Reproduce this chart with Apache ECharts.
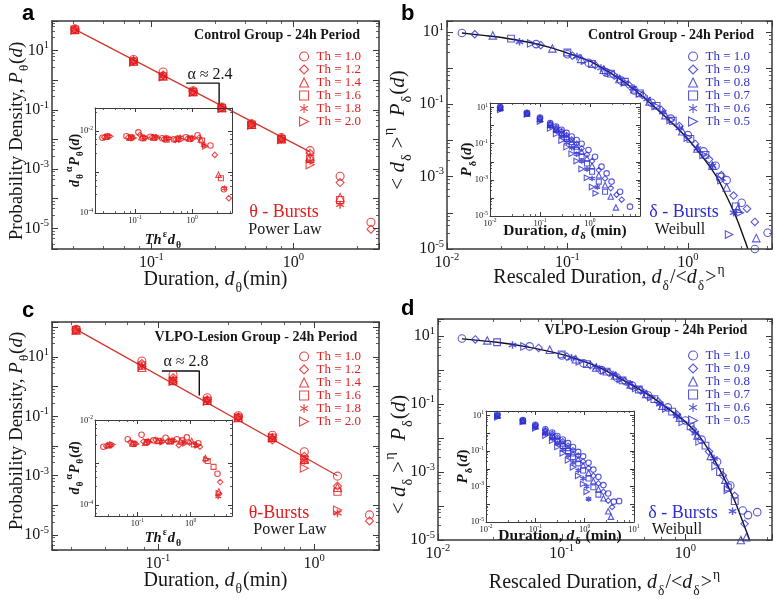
<!DOCTYPE html>
<html><head><meta charset="utf-8">
<script src="https://cdn.jsdelivr.net/npm/echarts@6/dist/echarts.min.js"></script>
<style>html,body{margin:0;padding:0;background:#fff}#c{width:775px;height:599px}</style>
</head><body><div id="c"></div>
<script>
// ================= DATA =================
const thetaLegend = ['Th = 1.0','Th = 1.2','Th = 1.4','Th = 1.6','Th = 1.8','Th = 2.0'];
const deltaLegend = ['Th = 1.0','Th = 0.9','Th = 0.8','Th = 0.7','Th = 0.6','Th = 0.5'];

// tick label exponents (10^k) per grid: a, b, c, d, inset a, inset b, inset c, inset d
const xTickExp = [[-1,0],[-2,-1,0],[-1,0],[-2,-1,0],[-1,0],[-2,-1,0],[-1,0],[-2,-1,0,1]];
const yTickExp = [[1,-1,-3,-5],[1,-1,-3,-5],[1,-1,-3,-5],[1,-1,-3,-5],[-2,-4],[1,-1,-3,-5],[-2,-4],[1,-1,-3,-5]];

// Panel a : theta bursts, control
const durA = [0.029,0.075,0.121,0.197,0.314,0.508,0.824,1.31,2.13,3.51];
const pA_th10 = [54,5.0,1.9,0.44,0.125,0.034,0.0115,4.2e-3,5.7e-4,1.6e-5];
const pA_th12 = [52,4.6,1.5,0.42,0.12,0.033,0.011,3.4e-3,3.5e-4,9.3e-6];
const pA_th14 = [51,4.4,1.4,0.41,0.118,0.032,0.0105,2.6e-3,1.1e-4];
const pA_th16 = [50,4.3,1.35,0.40,0.115,0.031,0.0102,2.2e-3,9e-5];
const pA_th18 = [50,4.2,1.35,0.40,0.115,0.031,0.010,1.9e-3,6.3e-5];
const pA_th20 = [49,4.1,1.3,0.39,0.112,0.030,0.0098,1.4e-3];
const fitA = [[0.029,52],[1.31,3.8e-3]];
const slopeA = [[0.176,0.8],[0.30,0.8],[0.30,0.15]];
const insetA = [
  [[0.027,6.8e-3],[0.071,7.4e-3],[0.115,9.2e-3],[0.186,7.2e-3],[0.3,6.6e-3],[0.48,6.2e-3],[0.78,7.0e-3],[1.25,7.8e-3],[2.1,4.4e-3],[3.6,3.8e-4]],
  [[0.029,7.0e-3],[0.076,6.9e-3],[0.123,8.0e-3],[0.2,7.0e-3],[0.32,6.3e-3],[0.51,6.0e-3],[0.83,6.5e-3],[1.33,6.8e-3],[2.5,2.6e-3],[4.4,2.3e-4]],
  [[0.031,7.2e-3],[0.081,6.8e-3],[0.13,7.0e-3],[0.21,6.9e-3],[0.34,6.6e-3],[0.55,6.4e-3],[0.88,6.6e-3],[1.42,6.2e-3],[2.9,8.5e-4]],
  [[0.033,7.3e-3],[0.086,7.0e-3],[0.14,6.6e-3],[0.22,6.9e-3],[0.36,6.1e-3],[0.58,6.5e-3],[0.93,6.4e-3],[1.5,5.8e-3],[3.2,7.0e-4]],
  [[0.035,7.4e-3],[0.09,7.1e-3],[0.146,7.0e-3],[0.235,7.2e-3],[0.38,6.6e-3],[0.62,7.0e-3],[1.0,6.9e-3],[1.6,4.5e-3],[3.7,4.0e-4]],
  [[0.037,7.4e-3],[0.095,6.7e-3],[0.154,6.7e-3],[0.25,6.8e-3],[0.4,6.6e-3],[0.65,6.1e-3],[1.05,6.4e-3],[1.7,4.2e-3]]
];

// Panel c : theta bursts, VLPO lesion
const durC = [0.030,0.079,0.125,0.207,0.327,0.54,0.865,1.41,2.26];
const pC_th10 = [85,7.3,2.5,0.42,0.105,0.023,6.4e-3,9.7e-4,4.8e-5];
const pC_th12 = [82,6.0,2.0,0.36,0.095,0.016,4.5e-3,4.5e-4,3e-5];
const pC_th14 = [80,4.4,1.7,0.34,0.09,0.019,3.6e-3,4e-4];
const pC_th16 = [80,5.1,1.55,0.33,0.09,0.019,3.4e-3,2.9e-4];
const pC_th18 = [80,5.0,1.55,0.33,0.09,0.019,3.2e-3,5.5e-5];
const pC_th20 = [78,4.8,1.5,0.32,0.088,0.019,1.8e-3,7e-5];
const fitC = [[0.030,85],[1.41,1e-3]];
const slopeC = [[0.106,3.36],[0.184,3.36],[0.184,0.5]];
const insetC = [
  [[0.023,2.4e-3],[0.066,3.6e-3],[0.12,4.6e-3],[0.2,3.4e-3],[0.34,3.9e-3],[0.55,3.6e-3],[0.85,4.0e-3],[1.4,2.9e-3],[3.2,5.5e-4]],
  [[0.026,2.5e-3],[0.074,3.1e-3],[0.13,3.2e-3],[0.22,3.5e-3],[0.37,3.2e-3],[0.6,2.6e-3],[0.95,3.0e-3],[1.5,2.4e-3],[3.6,3.5e-4]],
  [[0.028,2.6e-3],[0.08,2.9e-3],[0.14,3.0e-3],[0.24,3.3e-3],[0.4,3.3e-3],[0.65,3.2e-3],[1.05,3.3e-3],[1.9,1.3e-3],[3.4,2.1e-4]],
  [[0.03,2.6e-3],[0.085,2.8e-3],[0.15,3.1e-3],[0.26,3.3e-3],[0.43,3.2e-3],[0.7,3.4e-3],[1.15,2.7e-3],[2.1,1.1e-3],[2.7,8e-4]],
  [[0.032,2.6e-3],[0.09,2.9e-3],[0.16,3.3e-3],[0.28,3.2e-3],[0.46,3.4e-3],[0.75,3.1e-3],[1.25,2.6e-3],[3.3,1.6e-4]],
  [[0.034,2.7e-3],[0.095,2.8e-3],[0.17,3.1e-3],[0.3,3.1e-3],[0.5,3.3e-3],[0.8,2.9e-3],[1.35,2.6e-3],[2.0,1.2e-3],[3.4,1.9e-4]]
];

// Panel b : delta bursts, control (rescaled)
const pB = [
  [[0.0133,9.3],[0.055,4.6],[0.1,2.4],[0.15,1.4],[0.21,0.75],[0.28,0.45],[0.36,0.24],[0.5,0.11],[0.72,0.04],[1.0,0.014],[1.35,5e-3],[1.7,2e-3],[2.1,8e-4],[2.8,1.9e-4],[3.6,1e-5],[4.6,2.8e-5]],
  [[0.017,8.6],[0.06,4.3],[0.11,2.2],[0.17,1.2],[0.24,0.65],[0.32,0.35],[0.42,0.18],[0.6,0.07],[0.85,0.025],[1.15,8e-3],[1.5,3e-3],[1.9,1.1e-3],[2.4,3e-4],[3.1,1.3e-4],[3.6,5.6e-5]],
  [[0.024,8],[0.075,3.5],[0.13,1.8],[0.2,0.9],[0.27,0.5],[0.36,0.26],[0.48,0.12],[0.65,0.05],[0.9,0.018],[1.2,6e-3],[1.6,2e-3],[2.1,5e-4],[2.6,1.3e-4],[3.7,2e-5]],
  [[0.034,6.5],[0.1,2.7],[0.16,1.3],[0.23,0.7],[0.3,0.42],[0.4,0.2],[0.55,0.09],[0.75,0.035],[1.05,0.011],[1.4,4e-3],[1.85,1e-3],[2.5,1.5e-4]],
  [[0.04,5.3],[0.12,2.1],[0.19,1.0],[0.26,0.55],[0.35,0.28],[0.46,0.14],[0.62,0.06],[0.85,0.022],[1.2,6e-3],[1.6,2e-3],[2.4,1e-4]],
  [[0.05,4.8],[0.14,1.6],[0.22,0.8],[0.3,0.4],[0.4,0.2],[0.54,0.09],[0.72,0.037],[1.0,0.012],[1.35,4e-3],[1.9,8e-4],[2.2,2.5e-5],[2.7,1e-4]]
];
const weibullB = [[0.0133,9.3],[0.02,8.0],[0.03,6.8],[0.05,5.0],[0.07,3.8],[0.1,2.6],[0.15,1.6],[0.2,0.95],[0.3,0.4],[0.4,0.19],[0.5,0.1],[0.7,0.036],[1.0,0.011],[1.3,3.8e-3],[1.7,1.1e-3],[2.0,4e-4],[2.5,8e-5],[3.0,1.6e-5],[3.15,1e-5]];
const insetB = [
  [[0.016,11],[0.055,5.2],[0.1,2.8],[0.16,1.4],[0.21,0.9],[0.27,0.6],[0.34,0.4],[0.43,0.25],[0.54,0.16],[0.68,0.1],[0.93,0.045],[1.26,0.019],[1.7,5.4e-3],[2.15,2.3e-3],[2.7,8e-4],[4.0,2.2e-4],[6.3,3.3e-5]],
  [[0.016,10],[0.055,5],[0.1,2.6],[0.16,1.3],[0.21,0.8],[0.27,0.5],[0.34,0.3],[0.43,0.17],[0.54,0.1],[0.68,0.055],[0.87,0.025],[1.1,0.011],[1.5,3.5e-3],[2.0,1.2e-3],[2.6,3.5e-4],[3.4,1.5e-4],[4.3,8e-5]],
  [[0.016,10],[0.055,4.8],[0.1,2.4],[0.16,1.2],[0.21,0.7],[0.27,0.42],[0.34,0.24],[0.43,0.13],[0.54,0.07],[0.68,0.036],[0.87,0.016],[1.1,6e-3],[1.5,1.8e-3],[2.0,5e-4],[2.6,1.2e-4],[3.3,3e-5]],
  [[0.016,9],[0.055,4.6],[0.1,2.2],[0.16,1.05],[0.21,0.6],[0.27,0.34],[0.34,0.18],[0.43,0.09],[0.54,0.045],[0.68,0.02],[0.87,8e-3],[1.1,2.8e-3],[1.5,8e-4],[2.0,2.2e-4]],
  [[0.016,8.5],[0.055,4.4],[0.1,2.0],[0.16,0.9],[0.21,0.5],[0.27,0.26],[0.34,0.12],[0.43,0.06],[0.54,0.026],[0.68,0.011],[0.87,4e-3],[1.1,1.2e-3],[1.4,4e-4]],
  [[0.016,7.5],[0.055,4.2],[0.1,1.7],[0.16,0.7],[0.21,0.35],[0.27,0.15],[0.34,0.065],[0.43,0.028],[0.54,0.011],[0.68,4e-3],[0.87,1.3e-3],[1.1,4e-4],[1.3,1.8e-4]]
];

// Panel d : delta bursts, VLPO lesion (rescaled)
const pD = [
  [[0.0156,8.5],[0.055,5],[0.1,2.7],[0.15,1.6],[0.21,1.0],[0.28,0.6],[0.37,0.35],[0.5,0.18],[0.72,0.08],[1.0,0.033],[1.35,0.009],[1.8,2e-3],[2.3,4e-4],[2.9,7.4e-5],[3.2,5.4e-5],[3.8,6.6e-5]],
  [[0.02,8],[0.065,4.5],[0.11,2.5],[0.17,1.4],[0.24,0.85],[0.32,0.48],[0.43,0.26],[0.6,0.12],[0.85,0.05],[1.15,0.018],[1.55,4e-3],[2.0,8e-4],[2.5,2e-4],[3.0,3e-5]],
  [[0.025,7.5],[0.08,4],[0.13,2.1],[0.19,1.2],[0.27,0.7],[0.36,0.38],[0.48,0.2],[0.65,0.09],[0.9,0.04],[1.25,0.012],[1.6,3e-3],[2.1,6e-4],[2.8,1e-5],[3.1,1.2e-5]],
  [[0.03,6.6],[0.1,2.9],[0.16,1.5],[0.23,0.9],[0.31,0.5],[0.42,0.27],[0.56,0.14],[0.78,0.06],[1.1,0.022],[1.45,6e-3],[1.9,1e-3],[2.2,3.5e-4],[2.5,1.4e-4]],
  [[0.04,5.5],[0.12,2.3],[0.19,1.2],[0.26,0.75],[0.35,0.4],[0.46,0.22],[0.62,0.1],[0.85,0.045],[1.2,0.014],[1.7,2.5e-3],[2.4,7e-5]],
  [[0.05,5],[0.14,1.8],[0.22,1.0],[0.3,0.55],[0.4,0.3],[0.53,0.16],[0.7,0.075],[0.95,0.03],[1.3,0.008],[1.75,1.5e-3],[2.2,3e-4]]
];
const weibullD = [[0.0156,8.3],[0.03,6.6],[0.05,5.0],[0.1,2.9],[0.15,1.8],[0.2,1.2],[0.3,0.55],[0.5,0.19],[0.7,0.08],[1.0,0.03],[1.3,0.011],[1.6,3.5e-3],[2.0,8e-4],[2.5,1.4e-4],[3.0,2.5e-5],[3.3,1e-5]];
const insetD = [
  [[0.017,12],[0.056,5.5],[0.1,3.0],[0.16,1.7],[0.22,1.1],[0.28,0.7],[0.36,0.45],[0.46,0.28],[0.58,0.17],[0.74,0.09],[0.93,0.05],[1.2,0.022],[1.5,9e-3],[1.9,3.5e-3],[2.4,1.2e-3],[3.0,4e-4],[3.9,1.4e-4],[5.0,1.5e-4]],
  [[0.017,11],[0.056,5.2],[0.1,2.8],[0.16,1.5],[0.22,0.95],[0.28,0.58],[0.36,0.35],[0.46,0.2],[0.58,0.11],[0.74,0.055],[0.93,0.026],[1.2,0.011],[1.5,4e-3],[1.9,1.5e-3],[2.4,5e-4],[3.0,1.6e-4],[3.6,7e-5]],
  [[0.017,10],[0.056,5],[0.1,2.6],[0.16,1.3],[0.22,0.8],[0.28,0.48],[0.36,0.27],[0.46,0.15],[0.58,0.075],[0.74,0.036],[0.93,0.016],[1.2,6e-3],[1.5,2e-3],[1.9,7e-4],[2.4,2.2e-4],[3.0,4e-5],[3.4,2e-5]],
  [[0.017,9.5],[0.056,4.8],[0.1,2.4],[0.16,1.1],[0.22,0.65],[0.28,0.36],[0.36,0.19],[0.46,0.1],[0.58,0.045],[0.74,0.02],[0.93,8e-3],[1.2,2.8e-3],[1.5,9e-4],[1.9,3.5e-4]],
  [[0.017,9],[0.056,4.6],[0.1,2.2],[0.16,0.95],[0.22,0.5],[0.28,0.26],[0.36,0.12],[0.46,0.055],[0.58,0.022],[0.74,8e-3],[0.93,2.8e-3],[1.1,1e-3],[1.2,2e-4]],
  [[0.017,8],[0.056,4.4],[0.1,1.9],[0.16,0.75],[0.22,0.38],[0.28,0.17],[0.36,0.075],[0.46,0.03],[0.58,0.012],[0.74,4e-3],[0.93,1.4e-3],[1.1,5e-4]]
];

// ================= STYLE / LAYOUT =================
const SERIF = '"Liberation Serif","DejaVu Serif",serif';
const SANS = '"Liberation Sans","DejaVu Sans",sans-serif';
const RED = '#e31c1c', REDLINE = '#d23a2e', BLUE = '#2f2fcf', INK = '#161616', AXC = '#3a3a3a';
const SYMBOLS = ['circle','diamond','triangle','rect',
  'path://M5,0L5,10M0.67,2.5L9.33,7.5M0.67,7.5L9.33,2.5',
  'path://M0,0L10,5L0,10Z'];

const GRIDS = [
  {left:52, top:21, width:327, height:228},
  {left:447, top:21, width:325, height:228},
  {left:52, top:322, width:327, height:228},
  {left:438, top:319, width:335, height:232},
  {left:95, top:108, width:137, height:105},
  {left:490, top:103, width:150, height:113},
  {left:95, top:420, width:137, height:96},
  {left:486, top:411, width:148, height:111}
];
const RANGES = [
  {x:[0.02,4], y:[2e-6,100]},
  {x:[0.01,5], y:[1e-5,20]},
  {x:[0.021,2.6], y:[3.16e-6,150]},
  {x:[0.01,5], y:[1e-5,32]},
  {x:[0.02,5], y:[1e-4,0.036]},
  {x:[0.01,10], y:[1e-5,18]},
  {x:[0.016,6], y:[5.5e-5,0.0103]},
  {x:[0.01,10], y:[1e-5,18]}
];
function nameRich(fs, bold) {
  const w = bold ? 'bold' : 'normal';
  return {
    i:{fontFamily:SERIF, fontSize:fs, fontStyle:'italic', fontWeight:w, lineHeight:fs*1.5, color:INK},
    sub:{fontFamily:SERIF, fontSize:fs*0.68, fontWeight:w, lineHeight:fs*0.68, verticalAlign:'bottom', color:INK, padding:[0,1,0,1]},
    sup:{fontFamily:SERIF, fontSize:fs*0.68, fontWeight:w, lineHeight:fs*0.68, verticalAlign:'top', color:INK, padding:[0,1,0,1]}
  };
}
// axis names: [text, gap, fontSize, bold, padding]
const DNAME = '< {i|d}{sub|δ} >{sup|η}  {i|P}{sub|δ}({i|d})';
const NAMES = [
  {x:['Duration, {i|d}{sub|θ}(min)',16,20,false,0], y:['Probability Density, {i|P}{sub|θ}({i|d})',21,19,false,[0,12,0,0]]},
  {x:['Rescaled Duration, {i|d}{sub|δ}/<{i|d}{sub|δ}>{sup|η}',14,20,false,0], y:[DNAME,33,21,false,[0,0,0,10]]},
  {x:['Duration, {i|d}{sub|θ}(min)',16,20,false,0], y:['Probability Density, {i|P}{sub|θ}({i|d})',21,19,false,[0,0,0,10]]},
  {x:['Rescaled Duration, {i|d}{sub|δ}/<{i|d}{sub|δ}>{sup|η}',28,20,false,0], y:[DNAME,23,21,false,[0,50,0,0]]},
  {x:['{i|Th}{sup|ε}{i|d}{sub|θ}',16,14.5,true,0], y:['{i|d}{sub|θ}{sup|α}{i|P}{sub|θ}({i|d})',9.5,14,true,0]},
  {x:['Duration, {i|d}{sub|δ} (min)',3,15.5,true,0], y:['{i|P}{sub|δ}({i|d})',12,15,true,0]},
  {x:['{i|Th}{sup|ε}{i|d}{sub|θ}',11,14.5,true,0], y:['{i|d}{sub|θ}{sup|α}{i|P}{sub|θ}({i|d})',9.5,14,true,0]},
  {x:['Duration, {i|d}{sub|δ} (min)',2,15.5,true,0], y:['{i|P}{sub|δ}({i|d})',12,15,true,0]}
];

function makeAxis(dim, g, mirror) {
  const main = g < 4;
  const r = RANGES[g][dim];
  const exps = (dim === 'x' ? xTickExp : yTickExp)[g];
  const fs = main ? 16 : 8.5;
  const ax = {
    type:'log', logBase:10, gridIndex:g, min:r[0], max:r[1],
    position: dim === 'x' ? (mirror ? 'top' : 'bottom') : (mirror ? 'right' : 'left'),
    axisLine:{show:true, onZero:false, lineStyle:{color:AXC, width: main ? 1.5 : 1}},
    axisTick:{show:true, inside:true, interval:0, length: main ? 6 : 4, lineStyle:{color:AXC, width:1}},
    minorTick:{show:true, splitNumber:5, length: main ? 3 : 2, lineStyle:{color:AXC, width:0.8}},
    splitLine:{show:false}, minorSplitLine:{show:false},
    axisLabel:{show:!mirror, interval:0, showMinLabel:true, showMaxLabel:true, hideOverlap:false,
      margin: main ? 3 : 2,
      formatter: v => { const e = Math.log10(v), k = Math.round(e);
        return (Math.abs(e - k) < 1e-6 && exps.includes(k)) ? '{b|10}{s|' + k + '}' : ''; },
      rich:{b:{fontFamily:SERIF, fontSize:fs, lineHeight:fs*1.3, color:INK},
            s:{fontFamily:SERIF, fontSize:fs*0.66, lineHeight:fs*0.66, verticalAlign:'top', color:INK}}
    },
    silent:true, z:4
  };
  if (!mirror) {
    const n = NAMES[g][dim];
    Object.assign(ax, {name:n[0], nameLocation:'middle', nameGap:n[1], nameMoveOverlap:false,
      nameTextStyle:{fontFamily:SERIF, fontSize:n[2], fontWeight: n[3] ? 'bold' : 'normal', color:INK,
        lineHeight:n[2]*1.5, padding:n[4], rich:nameRich(n[2], n[3])}});
  }
  return ax;
}
const xAxis = [], yAxis = [];
GRIDS.forEach((_, g) => { xAxis.push(makeAxis('x', g, false), makeAxis('x', g, true));
                         yAxis.push(makeAxis('y', g, false), makeAxis('y', g, true)); });

const series = [];
function scat(name, g, data, k, color, size) {
  const star = k === 4;
  series.push({type:'scatter', name, xAxisIndex:2*g, yAxisIndex:2*g, data,
    symbol:SYMBOLS[k], symbolSize: k === 3 ? size*0.9 : size,
    itemStyle:{color: star ? color : 'rgba(255,255,255,0)', borderColor:color, borderWidth: star ? 1.5 : 1.1},
    silent:true, z:3});
}
function line(g, data, color, smooth) {
  series.push({type:'line', xAxisIndex:2*g, yAxisIndex:2*g, data, symbol:'none', smooth: smooth || false,
    lineStyle:{color, width:1.4}, silent:true, z:2});
}
const pA = [pA_th10,pA_th12,pA_th14,pA_th16,pA_th18,pA_th20];
const pC = [pC_th10,pC_th12,pC_th14,pC_th16,pC_th18,pC_th20];
line(0, fitA, REDLINE); line(0, slopeA, '#111');
line(2, fitC, REDLINE); line(2, slopeC, '#111');
line(1, weibullB, '#111', 0.3); line(3, weibullD, '#111', 0.3);
pA.forEach((ys, k) => scat('a:' + thetaLegend[k], 0, ys.map((y, i) => [durA[i], y]), k, RED, 8));
pC.forEach((ys, k) => scat('c:' + thetaLegend[k], 2, ys.map((y, i) => [durC[i], y]), k, RED, 8));
pB.forEach((d, k) => scat('b:' + deltaLegend[k], 1, d, k, BLUE, 7.5));
pD.forEach((d, k) => scat('d:' + deltaLegend[k], 3, d, k, BLUE, 7.5));
insetA.forEach((d, k) => scat('ia' + k, 4, d, k, RED, 5.5));
insetB.forEach((d, k) => scat('ib' + k, 5, d, k, BLUE, 5.5));
insetC.forEach((d, k) => scat('ic' + k, 6, d, k, RED, 5.5));
insetD.forEach((d, k) => scat('id' + k, 7, d, k, BLUE, 5.5));

function legend(prefix, labels, left, top, color, lh) {
  return {data: labels.map(l => prefix + l), orient:'vertical', left, top, itemWidth:9, itemHeight:9, itemGap:0,
    selectedMode:false, formatter: n => n.slice(2), itemStyle:{borderWidth:1.1},
    textStyle:{color, fontFamily:SERIF, fontSize:13, lineHeight:lh, padding:[0,0,0,3]}};
}
function T(text, x, y, size, color, weight, family, align) {
  return {type:'text', x, y, silent:true, z:100,
    style:{text, fill:color, font:(weight || 'normal') + ' ' + size + 'px ' + (family || SERIF),
      align: align || 'center', verticalAlign:'middle', textAlign: align || 'center', textVerticalAlign:'middle'}};
}
const graphic = [
  T('a', 22, 14, 22, '#000', 'bold', SANS, 'left'),
  T('b', 401, 14, 22, '#000', 'bold', SANS, 'left'),
  T('c', 22, 311, 22, '#000', 'bold', SANS, 'left'),
  T('d', 401, 309, 22, '#000', 'bold', SANS, 'left'),
  T('Control Group - 24h Period', 277, 35, 14, INK, 'bold'),
  T('Control Group - 24h Period', 671, 35, 14, INK, 'bold'),
  T('VLPO-Lesion Group - 24h Period', 256, 337, 14, INK, 'bold'),
  T('VLPO-Lesion Group - 24h Period', 646, 330, 14, INK, 'bold'),
  T('α ≈ 2.4', 210, 75, 16, INK),
  T('α ≈ 2.8', 186, 362, 16, INK),
  T('θ - Bursts', 284, 212, 18, RED),
  T('Power Law', 285, 230, 16, INK),
  T('δ - Bursts', 684, 212, 18, BLUE),
  T('Weibull', 680, 230, 16, INK),
  T('θ-Bursts', 279, 513, 18, RED),
  T('Power Law', 290, 530, 16, INK),
  T('δ - Bursts', 683, 513, 18, BLUE),
  T('Weibull', 677, 530, 16, INK)
];

const chart = echarts.init(document.getElementById('c'), null, {renderer:'canvas'});
chart.setOption({
  animation:false, backgroundColor:'#fff',
  grid: GRIDS.map(g => Object.assign({containLabel:false}, g)),
  xAxis, yAxis, series, graphic,
  legend:[
    legend('a:', thetaLegend, 294, 45, RED, 12.8),
    legend('b:', deltaLegend, 683, 45, BLUE, 12.8),
    legend('c:', thetaLegend, 294, 345, RED, 12.5),
    legend('d:', deltaLegend, 683, 344, BLUE, 11.7)
  ]
});
</script></body></html>
